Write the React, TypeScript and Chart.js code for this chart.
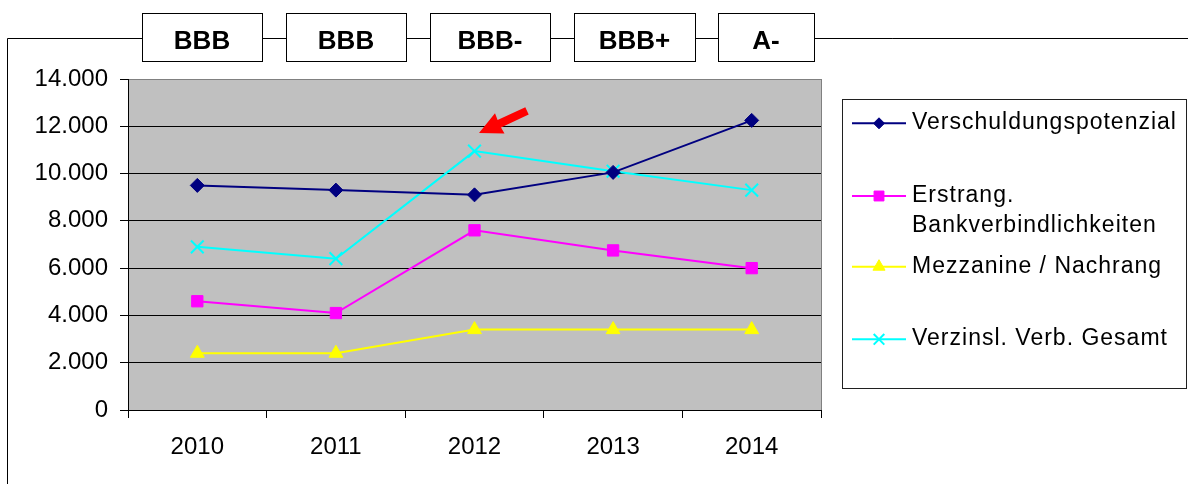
import React, { useEffect, useRef } from 'react';
import { Chart, registerables } from 'chart.js';
import { drawPoint } from 'chart.js/helpers';

Chart.register(...registerables);

// ---- data ----
const years = ['2010', '2011', '2012', '2013', '2014'];
const verschuldungspotenzial = [9500, 9300, 9100, 10050, 12250];
const erstrangBank = [4600, 4100, 7600, 6750, 6000];
const mezzanine = [2400, 2400, 3400, 3400, 3400];
const verzinslGesamt = [6900, 6400, 10950, 10100, 9300];
const ratings = ['BBB', 'BBB', 'BBB-', 'BBB+', 'A-'];
const yTickLabels = ['0', '2.000', '4.000', '6.000', '8.000', '10.000', '12.000', '14.000'];
const seriesNames = ['Verschuldungspotenzial', 'Erstrang.|Bankverbindlichkeiten', 'Mezzanine / Nachrang', 'Verzinsl. Verb. Gesamt'];
const seriesColors = ['#000080', '#FF00FF', '#FFFF00', '#00FFFF'];
const seriesMarkers = ['rectRot', 'rect', 'triangle', 'crossRot'];

const FONT = '"Liberation Sans", Arial, sans-serif';

const decorPlugin = {
  id: 'decor',
  beforeDraw(chart: any) {
    const { ctx, chartArea: a } = chart;
    ctx.save();
    ctx.fillStyle = '#ffffff';
    ctx.fillRect(0, 0, chart.width, chart.height);
    ctx.fillStyle = '#C0C0C0';
    ctx.fillRect(a.left, a.top, a.right - a.left, a.bottom - a.top);
    ctx.restore();
  },
  beforeDatasetsDraw(chart: any) {
    const { ctx, chartArea: a } = chart;
    ctx.save();
    ctx.strokeStyle = '#808080';
    ctx.lineWidth = 1;
    ctx.beginPath();
    ctx.moveTo(Math.round(a.right) + 0.5, a.top);
    ctx.lineTo(Math.round(a.right) + 0.5, a.bottom);
    ctx.stroke();
    ctx.restore();
  },
  afterDraw(chart: any) {
    const { ctx } = chart;
    ctx.save();
    // outer frame
    ctx.strokeStyle = '#000';
    ctx.lineWidth = 1;
    ctx.beginPath();
    ctx.moveTo(7.5, chart.height);
    ctx.lineTo(7.5, 38.5);
    ctx.lineTo(chart.width, 38.5);
    ctx.stroke();

    // rating boxes
    const boxes = [
      [142, 262],
      [286, 406],
      [430, 550],
      [574, 695],
      [718, 814],
    ];
    ctx.font = 'bold 26px ' + FONT;
    ctx.textAlign = 'center';
    ctx.textBaseline = 'alphabetic';
    boxes.forEach(([x0, x1], i) => {
      ctx.fillStyle = '#fff';
      ctx.fillRect(x0 + 0.5, 13.5, x1 - x0, 48);
      ctx.strokeStyle = '#000';
      ctx.strokeRect(x0 + 0.5, 13.5, x1 - x0, 48);
      ctx.fillStyle = '#000';
      ctx.fillText(ratings[i], (x0 + x1) / 2, 49.3);
    });

    // red arrow
    ctx.fillStyle = '#FF0000';
    ctx.beginPath();
    ctx.moveTo(479, 133);
    ctx.lineTo(495, 113.2);
    ctx.lineTo(497.6, 120.0);
    ctx.lineTo(525.3, 107.2);
    ctx.lineTo(528.7, 114.6);
    ctx.lineTo(501.0, 127.4);
    ctx.lineTo(504.5, 133.6);
    ctx.closePath();
    ctx.fill();

    // legend
    ctx.strokeStyle = '#202020';
    ctx.lineWidth = 1;
    ctx.strokeRect(842.5, 99.5, 344, 289);
    const lineYs = [123.3, 196, 266.7, 339.3];
    const textBases = [[129.3], [202.3, 231.7], [273.3], [345]];
    const legendRadii = [5.5, 7, 7, 7.5];
    ctx.font = '23px ' + FONT;
    ctx.textAlign = 'left';
    ctx.textBaseline = 'alphabetic';
    (ctx as any).letterSpacing = '1px';
    seriesNames.forEach((name, i) => {
      const y = lineYs[i];
      ctx.strokeStyle = seriesColors[i];
      ctx.lineWidth = 2;
      ctx.beginPath();
      ctx.moveTo(852, y);
      ctx.lineTo(906, y);
      ctx.stroke();
      ctx.fillStyle = seriesColors[i];
      ctx.strokeStyle = seriesColors[i];
      ctx.lineWidth = i === 3 ? 2 : 1;
      drawPoint(ctx, { pointStyle: seriesMarkers[i] as any, rotation: 0, radius: legendRadii[i], borderWidth: i === 3 ? 2 : 1 }, 879, y);
      ctx.fillStyle = '#000';
      name.split('|').forEach((ln, k) => {
        ctx.fillText(ln, 912, textBases[i][k]);
      });
    });
    (ctx as any).letterSpacing = '0px';
    ctx.restore();
  },
};

export default function App() {
  const ref = useRef<HTMLCanvasElement>(null);
  useEffect(() => {
    document.body.style.margin = '0';
    const datasets = [verschuldungspotenzial, erstrangBank, mezzanine, verzinslGesamt].map((data, i) => ({
      label: seriesNames[i].replace('|', ' '),
      data,
      borderColor: seriesColors[i],
      backgroundColor: seriesColors[i],
      pointBackgroundColor: seriesColors[i],
      pointBorderColor: seriesColors[i],
      pointStyle: seriesMarkers[i] as any,
      pointRadius: [7, 8, 8, 9][i],
      pointBorderWidth: i === 3 ? 2 : 1,
      borderWidth: 2,
      tension: 0,
      clip: false as any,
    }));
    const chart = new Chart(ref.current!, {
      type: 'line',
      data: { labels: years, datasets },
      options: {
        animation: false,
        responsive: false,
        devicePixelRatio: 1,
        layout: { padding: { left: 0, top: 79, right: 367, bottom: 24 } },
        plugins: { legend: { display: false }, tooltip: { enabled: false } },
        scales: {
          x: {
            offset: true,
            afterFit: (s: any) => { s.height = 50; },
            grid: { drawOnChartArea: false, drawTicks: true, tickLength: 8, offset: true, tickColor: '#000' },
            border: { display: true, color: '#000', width: 1 },
            ticks: { color: '#000', font: { family: FONT, size: 24 }, padding: 15, maxRotation: 0 },
          },
          y: {
            min: 0,
            max: 14000,
            afterFit: (s: any) => { s.width = 128; },
            grid: {
              color: (c: any) => (c.tick && c.tick.value === 14000 ? '#808080' : '#000'),
              tickColor: '#000',
              tickLength: 8,
              lineWidth: 1,
            },
            border: { display: true, color: '#000', width: 1 },
            ticks: {
              stepSize: 2000,
              color: '#000',
              font: { family: FONT, size: 24 },
              padding: 12,
              callback: (_v: any, idx: number) => yTickLabels[idx],
            },
          },
        },
      },
      plugins: [decorPlugin],
    });
    return () => chart.destroy();
  }, []);
  return (
    <div style={{ position: 'fixed', left: 0, top: 0, width: 1188, height: 484, background: '#fff' }}>
      <canvas ref={ref} width={1188} height={484} style={{ display: 'block' }} />
    </div>
  );
}
